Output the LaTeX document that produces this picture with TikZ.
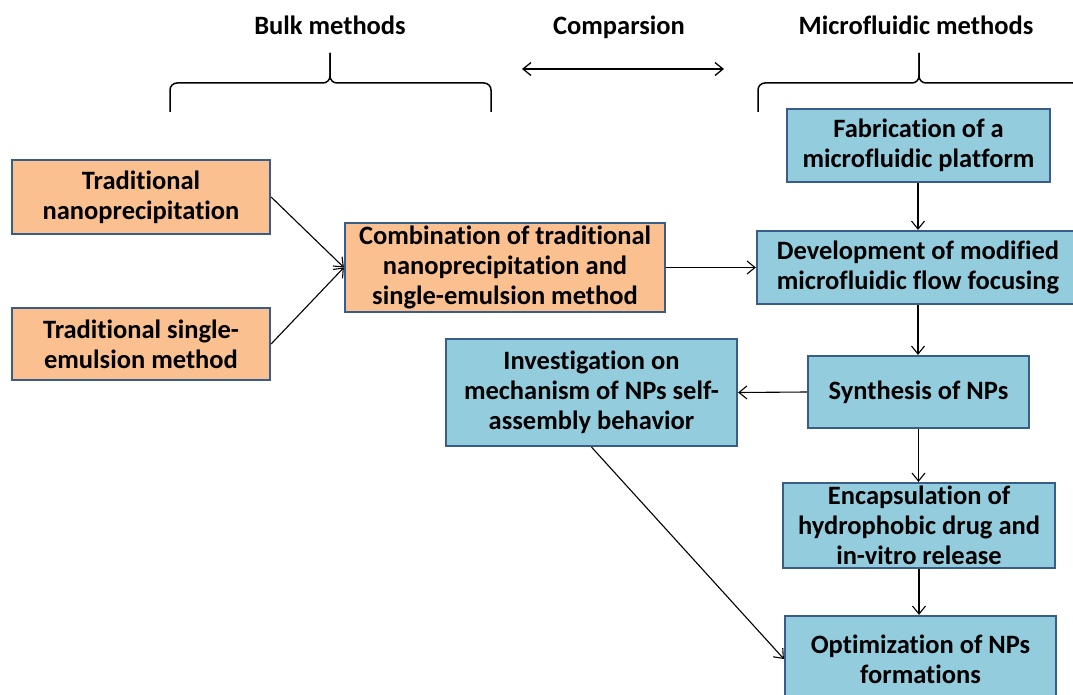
\documentclass[tikz,border=0pt]{standalone}
\usepackage{fontspec}
\setmainfont{Carlito}[Ligatures=NoCommon]
\usetikzlibrary{arrows.meta,positioning}

\definecolor{bulkc}{HTML}{FAC090}
\definecolor{microc}{HTML}{93CDDD}
\definecolor{edgec}{HTML}{385D8A}

\tikzset{
  box/.style={draw=edgec, line width=2.2pt, align=center, inner sep=0pt,
    font=\bfseries\fontsize{26.5}{30}\selectfont},
  bulkbox/.style={box, fill=bulkc},
  microbox/.style={box, fill=microc},
  link/.style={-{Straight Barb[length=8pt,width=13pt]}, line width=1.1pt},
  twoway/.style={{Straight Barb[length=8pt,width=13pt]}-{Straight Barb[length=8pt,width=13pt]}, line width=1.3pt},
  heading/.style={anchor=base, font=\bfseries\fontsize{26.5}{30}\selectfont},
  bracel/.style={line width=1.5pt, rounded corners=7pt},
}

\begin{document}
\begin{tikzpicture}[x=1pt, y=-1pt]

\useasboundingbox (0,0) rectangle (1073,695);
\clip (0,0) rectangle (1073,695);

% headings
\node[heading] (hbulk) at (330,35) {Bulk methods};
\node[heading] (hcomp) at (619,35) {Comparsion};
\node[heading] (hmicro) at (916,35) {Microfluidic methods};

\coordinate (cmpl) at (522,69);
\coordinate (cmpr) at (724,69);
\draw[twoway] (cmpl) -- (cmpr);

% braces
\draw[bracel] (170,112) -- (170,83) -- (330,83) -- (330,53);
\draw[bracel] (330,53) -- (330,83) -- (491,83) -- (491,112);
\draw[bracel] (758,112) -- (758,83) -- (919,83) -- (919,53);
\draw[bracel] (919,53) -- (919,83) -- (1080,83) -- (1080,112);

% bulk side
\node[bulkbox, minimum width=258pt, minimum height=74pt] (trnano) at (141,197) {Traditional\\nanoprecipitation};
\node[bulkbox, minimum width=258pt, minimum height=72pt] (trsingle) at (141,344) {Traditional single-\\emulsion method};
\node[bulkbox, minimum width=320pt, minimum height=89pt] (combo) at (505,267.5) {Combination of traditional\\nanoprecipitation and\\single-emulsion method};

% microfluidic side
\node[microbox, minimum width=263pt, minimum height=73pt] (fabric) at (918.5,145.5) {Fabrication of a\\microfluidic platform};
\node[microbox, minimum width=322pt, minimum height=73pt] (develop) at (918,267.5) {Development of modified\\microfluidic flow focusing};
\node[microbox, minimum width=221pt, minimum height=72pt] (synth) at (918.5,392) {Synthesis of NPs};
\node[microbox, minimum width=291pt, minimum height=107pt] (investig) at (591.5,392.5) {Investigation on\\mechanism of NPs self-\\assembly behavior};
\node[microbox, minimum width=272pt, minimum height=85pt] (encaps) at (919,525.5) {Encapsulation of\\hydrophobic drug and\\in-vitro release};
\node[microbox, minimum width=271pt, minimum height=86pt] (optim) at (920.5,659) {Optimization of NPs\\formations};

% connectors
\draw[link] (trnano.east) -- (combo.west);
\draw[link] (trsingle.east) -- (combo.west);
\draw[link] (combo.east) -- (develop.west);
\draw[link] (fabric.south -| develop.north) -- (develop.north);
\draw[link] (develop.south) -- (develop.south |- synth.north);
\draw[link] (synth.west) -- (investig.east);
\draw[link] (synth.south) -- (synth.south |- encaps.north);
\draw[link] (encaps.south) -- (encaps.south |- optim.north);
\draw[link] (investig.south) -- (optim.west);

\end{tikzpicture}
\end{document}
